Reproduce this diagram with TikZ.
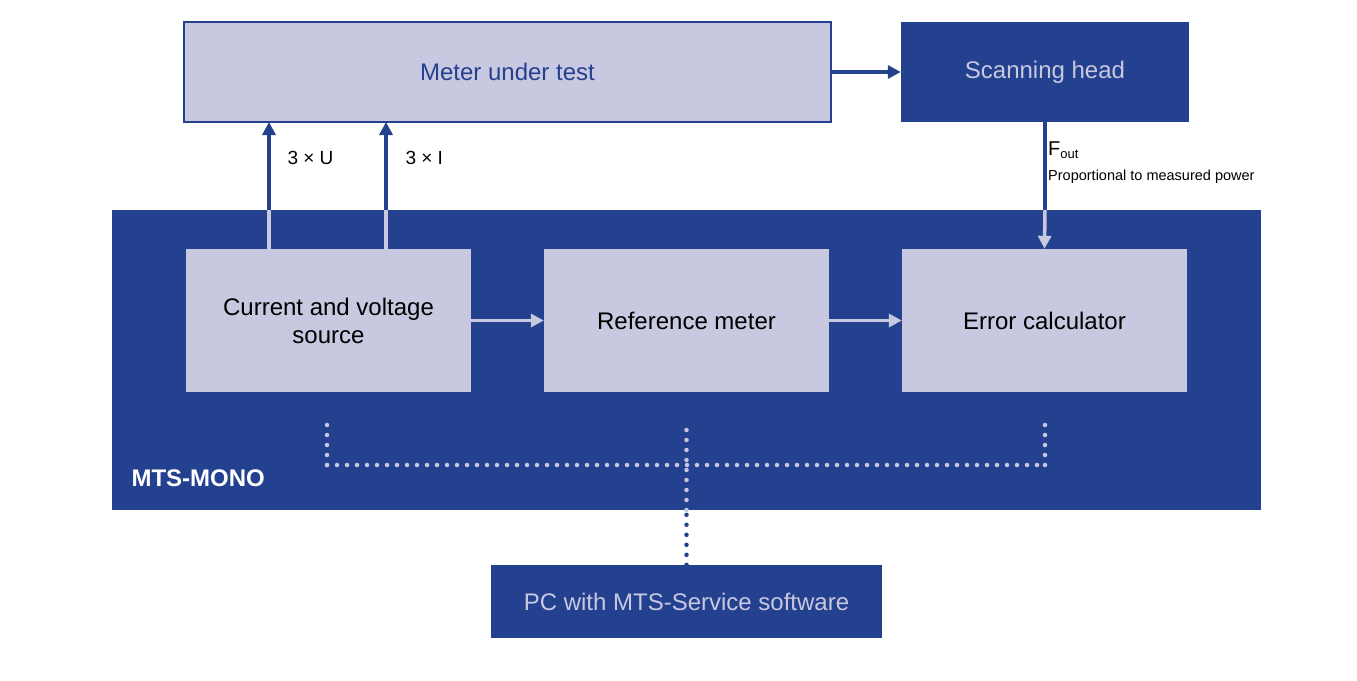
\documentclass[tikz,border=0pt]{standalone}
\usepackage{fontspec}
\setmainfont{Liberation Sans}
\usetikzlibrary{arrows.meta}
\definecolor{dk}{HTML}{24418F}
\definecolor{lt}{HTML}{C8C8E0}
\begin{document}
\begin{tikzpicture}[x=1pt,y=-1pt,
  lbox/.style={draw=none,fill=lt,inner sep=0,font=\fontsize{24}{28}\selectfont,align=center},
  dbox/.style={fill=dk,inner sep=0,text=lt,font=\fontsize{24}{28}\selectfont,align=center},
  arr/.style={line width=3.5pt,-{Triangle[length=13pt,width=13pt]}},
  dots/.style={line width=4.5pt,line cap=round,dash pattern=on 0pt off 10pt}]
\useasboundingbox (0,0) rectangle (1357,680);
\node[lbox,draw=dk,line width=2pt,minimum width=647pt,minimum height=100pt,text=dk] (mut) at (507.5,72) {Meter under test};
\node[dbox,minimum width=288pt,minimum height=100pt] (sh) at (1045,72) {Scanning head};
\node[dbox,minimum width=1149pt,minimum height=300pt] (mono) at (686.5,360) {};
\node[font=\bfseries\fontsize{24}{28}\selectfont,text=white,anchor=west] (ml) at (128,478) {MTS-MONO};
\node[lbox,minimum width=285pt,minimum height=143pt] (cvs) at (328.5,320.5) {Current and voltage\\source};
\node[lbox,minimum width=285pt,minimum height=143pt] (ref) at (686.5,320.5) {Reference meter};
\node[lbox,minimum width=285pt,minimum height=143pt] (err) at (1044.5,320.5) {Error calculator};
\node[dbox,minimum width=391pt,minimum height=73pt] (pc) at (686.5,601.5) {PC with MTS-Service software};
\draw[arr,dk] (mut.east) -- (sh.west);
\draw[arr,lt] (cvs) -- (ref);
\draw[arr,lt] (ref) -- (err);
% 3xU, 3xI
\coordinate (u0) at (269,249); \coordinate (u1) at (269,210); \coordinate (u2) at (269,122);
\coordinate (i0) at (386,249); \coordinate (i1) at (386,210); \coordinate (i2) at (386,122);
\draw[arr,dk] (u1) -- (u2);
\draw[line width=3.5pt,lt] (u0) -- (u1);
\draw[arr,dk] (i1) -- (i2);
\draw[line width=3.5pt,lt] (i0) -- (i1);
\node[anchor=west,font=\fontsize{19}{22}\selectfont] (lu) at (284,158) {3 × U};
\node[anchor=west,font=\fontsize{19}{22}\selectfont] (li) at (402,158) {3 × I};
% Fout
\coordinate (f1) at (1045,210);
\draw[line width=3.5pt,dk] (sh.south) -- (f1);
\draw[arr,lt] (f1) -- (err.north);
\node[anchor=west,font=\fontsize{20}{22}\selectfont,inner sep=0] (fo) at (1048,150) {F\raisebox{-0.3ex}{\fontsize{13}{14}\selectfont out}};
\node[anchor=west,font=\fontsize{14.5}{16}\selectfont,inner sep=0] (pp) at (1048,177) {Proportional to measured power};
% dotted
\coordinate (pm) at (686.5,510);
\coordinate (pj) at (686.5,465);
\coordinate (ca) at (327,465); \coordinate (ea) at (1045,465);
\coordinate (ct) at (327,392); \coordinate (et) at (1045,392);
\draw[dots,dk] (pc.north) -- (pm);
\draw[dots,lt] (pm) -- (686.5,420);
\draw[dots,lt] (ca) -- (ea);
\draw[dots,lt] (ca) -- (327,420);
\draw[dots,lt] (ea) -- (1045,420);
\foreach \p/\t in {ct/cvs,et/err} \draw[lt,-{Triangle[length=22pt,width=18pt]},line width=0.5pt] ([yshift=24pt]\p) -- (\p);
\draw[lt,-{Triangle[length=22pt,width=18pt]},line width=0.5pt] ([yshift=24pt]ref.south) -- (ref.south);
\end{tikzpicture}
\end{document}
